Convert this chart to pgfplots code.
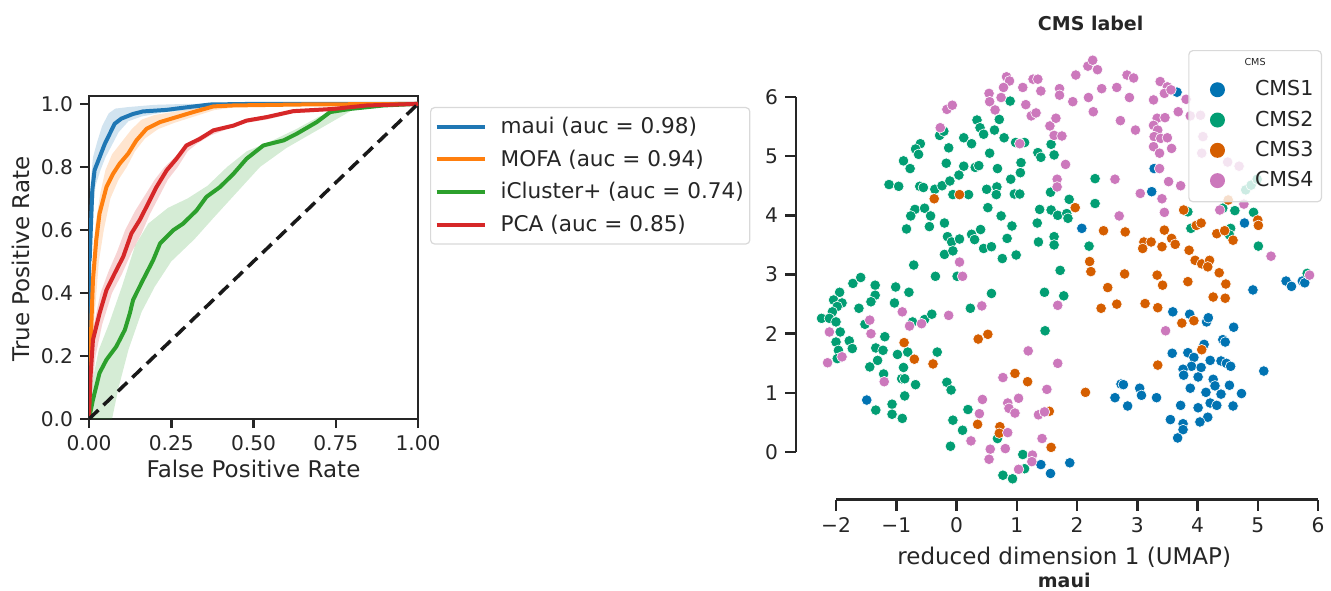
\documentclass[border=0pt]{standalone}
\usepackage{fontspec}
\setmainfont{DejaVu Sans}
\usepackage{pgfplots}
\pgfplotsset{compat=1.18}

\definecolor{axc}{HTML}{262626}
\definecolor{legc}{HTML}{D9D9D9}
\definecolor{mblue}{HTML}{1F77B4}
\definecolor{morange}{HTML}{FF7F0E}
\definecolor{mgreen}{HTML}{2CA02C}
\definecolor{mred}{HTML}{D62728}
\definecolor{cbA}{HTML}{0173B2}
\definecolor{cbB}{HTML}{029E73}
\definecolor{cbC}{HTML}{D55E00}
\definecolor{cbD}{HTML}{CC78BC}

\newcommand{\tickfont}{\fontsize{10.1}{12}\selectfont}
\newcommand{\labfont}{\fontsize{11.5}{14}\selectfont}
\newcommand{\legfont}{\fontsize{10.8}{13}\selectfont}
\newcommand{\cmsfont}{\fontsize{10.3}{12}\selectfont}
\newcommand{\boldfont}{\fontsize{9.5}{11}\selectfont\bfseries}

\pgfplotsset{
  band/.style={draw=none, fill=#1, fill opacity=0.2, forget plot},
  roc/.style={draw=#1, line width=2pt, line join=round},
  cms/.style={only marks, mark=*, mark size=2.65pt,
    mark options={fill=#1, draw=white, line width=0.3pt},
    legend image code/.code={\path (-12pt,0pt) (8.5pt,0pt);
      \fill[#1, fill opacity=1, draw=none] (0pt,0pt) circle (3.75pt);}},
}

\begin{document}
\begin{tikzpicture}
\useasboundingbox (0,0) rectangle (665.5pt,295pt);

% ---- ROC curves ----
\begin{axis}[
  at={(44.5pt,85.5pt)}, anchor=south west, scale only axis,
  width=164.5pt, height=161.5pt,
  xmin=0, xmax=1, ymin=0, ymax=1.025,
  xtick={0,0.25,0.5,0.75,1}, xticklabels={0.00,0.25,0.50,0.75,1.00},
  ytick={0,0.2,0.4,0.6,0.8,1}, yticklabels={0.0,0.2,0.4,0.6,0.8,1.0},
  tick align=outside, tick pos=left, major tick length=4.5pt,
  axis line style={line width=1.25pt, draw=axc},
  tick style={line width=1.25pt, draw=axc},
  tick label style={font=\tickfont, text=axc},
  xlabel={False Positive Rate}, ylabel={True Positive Rate},
  label style={font=\labfont, text=axc},
  xlabel style={at={(axis description cs:0.5,-0.155)}, anchor=center},
  ylabel style={at={(axis description cs:-0.207,0.495)}, anchor=center},
  legend style={at={(1.0365,0.966)}, anchor=north west, draw=legc,
    rounded corners=2pt, line width=0.6pt, font=\legfont, text=axc,
    inner xsep=2pt, inner ysep=2pt, row sep=1pt, column sep=6pt,
    nodes={inner xsep=1pt, inner ysep=2.8pt}},
  legend cell align=left,
  legend image code/.code={\draw[#1, line width=2pt] (0pt,0pt) -- (24pt,0pt);},
]
% confidence bands
\addplot[band=mblue] coordinates {(0,0.55)(0.005,0.75)(0.012,0.83)(0.025,0.88)(0.04,0.93)(0.06,0.97)(0.08,0.985)(0.12,0.99)(0.2,0.997)(0.3,1)(1,1)
  (1,1)(0.4,0.995)(0.3,0.98)(0.22,0.972)(0.16,0.96)(0.12,0.945)(0.09,0.91)(0.07,0.87)(0.05,0.83)(0.035,0.79)(0.02,0.74)(0.01,0.64)(0.004,0.45)(0,0.45)};
\addplot[band=morange] coordinates {(0,0)(0.004,0.28)(0.01,0.5)(0.02,0.62)(0.035,0.72)(0.05,0.79)(0.07,0.84)(0.1,0.88)(0.13,0.92)(0.16,0.95)(0.2,0.965)(0.26,0.975)(0.32,0.985)(0.38,0.997)(1,1)
  (1,1)(0.45,0.99)(0.38,0.98)(0.32,0.96)(0.26,0.94)(0.21,0.92)(0.17,0.89)(0.14,0.85)(0.115,0.8)(0.09,0.76)(0.065,0.7)(0.045,0.6)(0.03,0.5)(0.015,0.3)(0.006,0.1)(0,0)};
\addplot[band=mgreen] coordinates {(0,0)(0.01,0.12)(0.03,0.22)(0.06,0.3)(0.1,0.42)(0.14,0.55)(0.18,0.62)(0.24,0.67)(0.3,0.7)(0.36,0.74)(0.42,0.8)(0.48,0.85)(0.55,0.88)(0.63,0.92)(0.7,0.96)(0.8,0.99)(1,1)
  (1,1)(0.8,0.98)(0.7,0.92)(0.6,0.86)(0.52,0.8)(0.45,0.72)(0.38,0.64)(0.32,0.57)(0.25,0.5)(0.2,0.42)(0.16,0.34)(0.12,0.22)(0.09,0.1)(0.07,0)(0,0)};
\addplot[band=mred] coordinates {(0,0)(0.005,0.2)(0.015,0.3)(0.035,0.4)(0.06,0.47)(0.085,0.53)(0.11,0.6)(0.14,0.66)(0.17,0.71)(0.2,0.76)(0.23,0.8)(0.27,0.84)(0.3,0.875)(0.34,0.9)(0.4,0.925)(0.5,0.955)(0.6,0.975)(0.75,0.99)(1,1)
  (1,1)(0.85,0.99)(0.75,0.978)(0.62,0.97)(0.54,0.95)(0.48,0.94)(0.42,0.92)(0.37,0.9)(0.33,0.875)(0.3,0.85)(0.27,0.8)(0.24,0.76)(0.21,0.7)(0.185,0.65)(0.16,0.59)(0.13,0.53)(0.1,0.46)(0.07,0.4)(0.04,0.3)(0.02,0.2)(0.008,0.08)(0,0)};
% mean curves
\addplot[roc=mblue] coordinates {(0,0)(0,0.5)(0.002,0.504)(0.01,0.726)(0.017,0.79)(0.032,0.83)(0.048,0.873)(0.063,0.905)(0.078,0.937)(0.098,0.953)(0.134,0.968)(0.164,0.976)(0.236,0.981)(0.296,0.989)(0.368,0.998)(0.5,1)(1,1)};
\addlegendentry{maui (auc = 0.98)}
\addplot[roc=morange] coordinates {(0,0)(0.004,0.209)(0.012,0.441)(0.022,0.568)(0.032,0.652)(0.053,0.736)(0.073,0.778)(0.093,0.81)(0.119,0.842)(0.144,0.884)(0.175,0.921)(0.215,0.942)(0.266,0.958)(0.317,0.974)(0.378,0.992)(0.439,0.995)(0.642,0.998)(1,1)};
\addlegendentry{MOFA (auc = 0.94)}
\addplot[roc=mgreen] coordinates {(0,0)(0.012,0.061)(0.032,0.146)(0.053,0.188)(0.083,0.23)(0.109,0.283)(0.124,0.335)(0.134,0.378)(0.164,0.441)(0.195,0.504)(0.216,0.557)(0.256,0.599)(0.286,0.62)(0.327,0.662)(0.357,0.705)(0.398,0.736)(0.439,0.778)(0.479,0.826)(0.53,0.868)(0.591,0.884)(0.631,0.905)(0.692,0.942)(0.733,0.974)(0.794,0.984)(0.895,0.995)(1,1)};
\addlegendentry{iCluster+ (auc = 0.74)}
\addplot[roc=mred] coordinates {(0,0)(0.004,0.124)(0.012,0.251)(0.032,0.335)(0.053,0.409)(0.078,0.462)(0.104,0.515)(0.129,0.589)(0.154,0.631)(0.18,0.684)(0.205,0.736)(0.236,0.789)(0.266,0.826)(0.296,0.868)(0.337,0.889)(0.378,0.916)(0.439,0.931)(0.479,0.947)(0.54,0.958)(0.621,0.977)(0.692,0.981)(0.743,0.984)(0.845,0.995)(1,1)};
\addlegendentry{PCA (auc = 0.85)}
\addplot[black!90, line width=1.75pt, dash pattern=on 6.5pt off 3.5pt, forget plot] coordinates {(0,0)(1,1)};
\end{axis}

% ---- UMAP scatter ----
\begin{axis}[
  at={(398pt,45.25pt)}, anchor=south west, scale only axis,
  width=264pt, height=229.4pt,
  xmin=-2.664, xmax=6.1, ymin=-0.80, ymax=6.95,
  axis x line*=bottom, axis y line*=left, axis line style={draw=none},
  xtick={-2,-1,0,1,2,3,4,5,6}, xticklabels={−2,−1,0,1,2,3,4,5,6},
  ytick={0,1,2,3,4,5,6}, yticklabels={0,1,2,3,4,5,6},
  tick align=outside, major tick length=5.5pt,
  tick style={line width=1.25pt, draw=axc},
  tick label style={font=\tickfont, text=axc},
  xlabel={reduced dimension 1 (UMAP)},
  xlabel style={font=\labfont, text=axc, at={(axis description cs:0.508,-0.127)}, anchor=center},
  title={CMS label},
  title style={font=\boldfont, text=axc, at={(axis description cs:0.558,1.011)}, anchor=center},
  clip=false,
  legend style={at={(0.9962,0.9797)}, anchor=north east, draw=legc,
    rounded corners=2pt, line width=0.6pt, fill=white, fill opacity=0.8,
    draw opacity=1, text opacity=1, font=\cmsfont, text=axc,
    inner xsep=2pt, inner ysep=3pt, row sep=0pt, column sep=8pt,
    nodes={inner xsep=2pt, inner ysep=3pt}},
  legend cell align=left,
]
\addlegendimage{empty legend}
\addlegendentry{\raisebox{0pt}[1.5pt][0pt]{\makebox[0pt]{\fontsize{4.8}{5}\selectfont CMS}}}
\addplot[cms=cbA] coordinates {
(3.66,6.08)(3.28,4.79)(3.24,4.40)(2.08,3.78)(4.78,3.87)
(-1.49,0.88)(1.40,-0.21)(1.56,-0.36)
(3.59,2.37)(3.87,2.33)(4.15,2.20)(4.18,2.27)(4.60,2.11)(4.42,1.90)(4.46,1.86)(4.11,1.82)
(3.58,1.67)(3.84,1.68)(3.94,1.60)(3.90,1.45)(4.06,1.43)(3.76,1.40)(3.77,1.30)(4.01,1.27)
(4.21,1.55)(4.39,1.54)(4.48,1.50)(4.55,1.45)(4.26,1.23)(4.29,1.12)(4.53,1.13)(3.88,1.08)
(4.14,1.01)(4.39,0.98)(4.73,0.99)(4.21,0.83)(4.32,0.79)(4.59,0.78)(3.72,0.79)(4.01,0.75)
(4.17,0.59)(4.04,0.51)(3.55,0.55)(3.76,0.48)(3.76,0.38)(3.67,0.24)(5.10,1.37)(4.92,2.74)
(5.47,2.89)(5.56,2.80)(5.74,2.89)(5.78,2.86)(2.73,1.15)(2.77,1.14)(3.04,1.08)(3.07,0.96)
(2.63,0.92)(2.84,0.78)(3.32,0.92)(1.88,-0.18)};
\addlegendentry{CMS1}
\addplot[cms=cbB] coordinates {
(0.89,5.93)(0.71,5.62)(0.34,5.61)(0.39,5.48)(0.45,5.37)(0.63,5.44)(0.79,5.31)(0.98,5.23)
(1.13,5.23)(0.12,5.31)(0.25,5.21)(-0.13,5.14)(-0.28,5.35)(-0.21,5.42)(-0.60,5.21)(-0.68,5.12)
(-0.63,5.03)(-0.88,4.92)(-0.77,4.79)(0.55,5.05)(-0.17,4.88)(0.12,4.83)(0.31,4.81)(0.37,4.84)
(0.68,4.79)(1.07,4.89)(1.06,4.72)(0.90,4.61)(1.35,5.06)(1.40,4.98)(-1.12,4.52)(-0.96,4.49)
(-0.61,4.49)(-0.55,4.47)(-0.36,4.44)(-0.24,4.50)(-0.11,4.58)(0.04,4.68)(-0.06,4.35)(0.20,4.35)
(0.50,4.44)(0.67,4.48)(0.66,4.35)(0.96,4.36)(1.05,4.36)(1.56,4.39)(-0.69,4.10)(-0.53,4.12)
(-0.76,3.99)(-0.43,3.99)(0.52,4.13)(0.74,3.99)(1.38,4.10)(-0.83,3.77)(-0.45,3.81)(-0.20,3.87)
(0.92,3.82)(1.34,3.87)(-0.15,3.64)(-0.08,3.55)(0.05,3.60)(0.25,3.68)(0.30,3.59)(0.40,3.76)
(0.45,3.44)(0.58,3.47)(0.84,3.61)(1.36,3.55)(-0.20,3.34)(-0.06,3.40)(0.76,3.27)(0.99,3.33)
(-0.71,3.16)
(1.57,5.20)(1.62,5.02)(2.30,4.62)(1.87,4.27)(2.30,4.20)(1.57,4.09)(1.68,4.00)(1.83,4.03)
(1.85,3.95)(1.62,3.64)(1.62,3.50)(2.20,3.48)(3.84,4.06)(3.89,3.78)(4.42,4.12)(4.62,4.08)
(4.93,4.05)(4.55,3.78)(4.53,3.67)(5.01,3.48)(4.80,4.43)(4.89,4.51)(4.99,4.61)
(-0.35,2.97)(0.01,2.97)(-1.72,2.85)(-1.59,2.95)(-1.35,2.82)(-1.35,2.65)(-1.42,2.54)(-1.01,2.79)
(-0.79,2.70)(-1.03,2.52)(-1.94,2.70)(-2.04,2.57)(-1.90,2.52)(-1.98,2.46)(-2.06,2.37)(-2.24,2.26)
(-2.11,2.26)(-2.00,2.20)(-1.93,2.03)(-1.62,2.43)(-1.52,2.16)(-2.00,1.86)(-1.96,1.72)(-1.98,1.58)
(-1.78,1.88)(-1.73,1.75)(-1.34,1.76)(-1.22,1.72)(-1.19,1.95)(-1.31,1.55)(-1.44,1.44)(-1.21,1.32)
(-0.88,1.43)(-0.98,1.65)(-0.81,1.69)(-0.91,1.24)(-0.86,1.24)(-0.68,1.14)(-0.86,0.95)(-1.07,0.81)
(-1.34,0.71)(-1.07,0.64)(-0.90,0.57)(-0.73,2.20)(-0.53,2.24)(-0.41,2.33)(-0.32,1.69)(-0.16,1.18)
(-0.09,1.05)(0.23,2.43)(0.58,2.68)(0.19,0.72)(-0.06,0.54)(0.10,0.37)(-0.10,0.10)(0.68,0.23)
(1.10,-0.04)(1.13,-0.28)(0.77,-0.39)(0.93,-0.45)(1.46,2.70)(1.47,2.05)
(1.72,3.07)(1.78,2.64)(5.82,3.02)};
\addlegendentry{CMS2}
\addplot[cms=cbC] coordinates {
(-0.37,4.28)(0.05,4.35)
(1.97,4.13)(2.44,3.74)(2.80,3.72)(3.45,3.75)(3.11,3.55)(3.23,3.55)(3.09,3.44)(3.41,3.47)
(3.57,3.61)(3.63,3.51)(3.86,3.41)(3.77,4.09)(3.98,3.83)(4.06,3.87)(4.32,3.69)(4.45,3.74)
(4.59,3.58)(5.00,3.92)(5.01,3.83)(2.21,3.22)(3.96,3.24)(4.07,3.18)(4.20,3.24)(4.17,3.13)
(4.51,4.26)
(-0.87,1.85)(-0.70,1.57)(-0.39,1.49)(0.36,1.91)(0.52,1.99)(0.97,1.33)(1.18,1.19)(0.35,0.47)
(0.72,0.43)(0.71,0.32)(1.54,0.69)(1.57,0.08)
(2.23,3.05)(2.79,3.01)(3.33,2.99)(3.42,2.82)(2.51,2.78)(2.40,2.43)(2.66,2.50)(3.13,2.51)
(3.34,2.44)(3.84,2.88)(4.36,3.03)(4.47,2.84)(4.26,2.62)(4.46,2.60)(3.74,2.18)(3.94,2.22)
(4.07,1.73)(3.34,1.47)(2.14,1.01)};
\addlegendentry{CMS3}
\addplot[cms=cbD] coordinates {
(0.83,6.34)(0.88,6.27)(0.78,6.16)(0.54,6.06)(0.55,5.92)(0.74,5.99)(0.64,5.78)(1.10,6.16)
(1.27,6.30)(1.35,6.30)(1.40,6.10)(1.15,5.87)(1.24,5.68)(1.32,5.73)(-0.16,5.79)(-0.07,5.86)
(-0.27,5.48)(1.55,5.51)(0.05,3.21)(1.05,5.21)
(1.71,6.14)(1.71,6.03)(1.93,5.92)(1.98,6.37)(2.18,6.52)(2.26,6.62)(2.34,6.46)(2.41,6.14)
(2.19,5.99)(2.27,5.75)(2.66,6.16)(2.83,6.37)(2.94,6.32)(2.87,5.99)(2.72,5.60)(2.97,5.44)
(1.65,5.64)(1.62,5.35)(1.75,5.34)(1.81,4.86)(1.67,4.61)(1.67,4.48)(2.63,4.61)(2.70,3.99)
(3.05,4.37)(3.27,5.95)(3.38,6.26)(3.50,6.17)(3.45,6.06)(3.56,6.12)(3.68,5.75)(3.33,5.64)
(3.46,5.65)(3.27,5.52)(3.34,5.44)(3.28,5.33)(3.39,5.30)(3.50,5.31)(3.27,5.16)(3.37,5.05)
(3.57,5.13)(3.37,4.79)(3.52,4.57)(3.72,4.50)(3.41,4.28)(3.45,4.05)(3.81,5.96)(3.88,5.68)
(4.05,5.69)(4.09,5.33)(4.07,5.05)(4.50,4.90)(4.69,4.83)(4.37,4.09)(4.77,4.19)(5.22,3.31)
(0.10,2.97)(0.42,2.47)(-0.13,2.31)(-0.90,2.37)(-0.78,2.13)(-0.58,2.17)(-1.44,2.23)(-1.42,2.00)
(-2.11,2.03)(-2.14,1.51)(-1.90,1.61)(-1.20,1.19)(0.77,1.26)(0.43,0.89)(0.38,0.65)(0.85,0.83)
(0.87,0.74)(0.97,0.66)(1.03,0.91)(1.19,1.71)(1.50,1.06)(1.36,0.63)(1.46,0.68)(1.42,0.23)
(0.85,0.33)(0.24,0.19)(0.56,0.05)(0.54,-0.12)(0.81,0.06)(1.26,-0.05)(1.25,-0.16)(1.03,-0.29)
(1.68,2.48)(3.47,2.05)(1.68,1.50)(5.86,2.99)};
\addlegendentry{CMS4}
% trimmed spines
\draw[line width=1.25pt, axc] (axis cs:-2,-0.80) -- (axis cs:6,-0.80);
\draw[line width=1.25pt, axc] (axis cs:-2.664,0) -- (axis cs:-2.664,6);
\node[font=\boldfont, text=axc, anchor=center, inner sep=0pt] at (axis description cs:0.508,-0.176) {maui};
\end{axis}
\end{tikzpicture}
\end{document}
